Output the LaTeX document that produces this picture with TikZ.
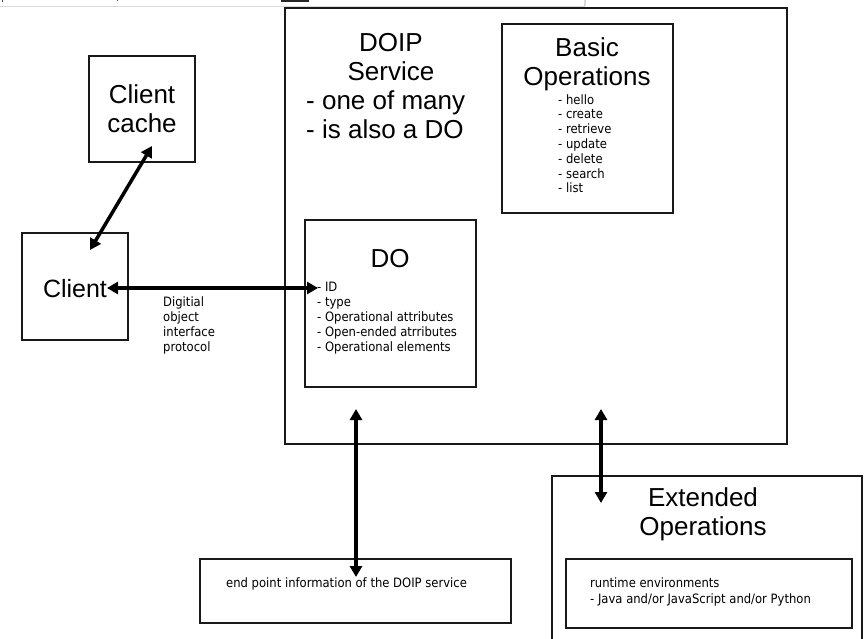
\documentclass[tikz,border=0pt]{standalone}
\usepackage{fontspec}
\setmainfont{Liberation Sans}
\newfontfamily\smallfont{DejaVu Sans Condensed}
\usetikzlibrary{arrows.meta}
\begin{document}
\begin{tikzpicture}[x=1pt,y=-1pt,
  box/.style={draw=black!90, line width=1.6pt, inner sep=0pt},
  big/.style={font=\fontsize{26}{29}\selectfont, align=center, inner sep=0pt, anchor=base},
  bigleft/.style={font=\fontsize{26}{29}\selectfont, align=left, inner sep=0pt, anchor=base west},
  small/.style={font=\smallfont\fontsize{12.9}{14.8}\selectfont, align=left, inner sep=0pt, anchor=base west},
  biarrow/.style={line width=3.5pt, {Triangle[length=11pt,width=12pt]}-{Triangle[length=11pt,width=12pt]}}]
\useasboundingbox (0,0) rectangle (864,639);
% cropped toolbar residue
\draw[black!15, line width=1.5pt] (0,6.5) -- (585,6.5) (585,0) -- (585,6.5);
\fill[black!85] (281,0) rectangle (309,2);
\draw[black!70, line width=0.8pt] (2,0) -- (2,2) (117,0) -- (117,1.5);
% boxes
\node[box, minimum width=502pt, minimum height=436pt] (main) at (536,226) {};
\node[box, minimum width=171pt, minimum height=189pt] (basic) at (587.5,118.5) {};
\node[box, minimum width=171pt, minimum height=167pt] (do) at (390.5,303.5) {};
\node[box, minimum width=106pt, minimum height=107pt] (client) at (75,286.5) {};
\node[box, minimum width=106pt, minimum height=106pt] (cache) at (142,109) {};
\node[box, minimum width=311pt, minimum height=64pt] (endpoint) at (355.5,591) {};
\node[box, minimum width=286pt, minimum height=69pt] (runtime) at (709,593.5) {};
\draw[draw=black!90, line width=1.6pt] (552,645) -- (552,476) -- (862,476) -- (862,645);
% texts (anchor = baseline of the last line)
\node[big] (doiptitle) at (391,81) {DOIP\\Service};
\node[bigleft] (doipdesc) at (306,139) {- one of many\\- is also a DO};
\node[big] (basictitle) at (587,86) {Basic\\Operations};
\node[small] (basiclist) at (558,193) {- hello\\- create\\- retrieve\\- update\\- delete\\- search\\- list};
\node[big] (dotitle) at (390,267) {DO};
\node[small] (dolist) at (317,351) {- ID\\- type\\- Operational attributes\\- Open-ended atrributes\\- Operational elements};
\node[big, font=\fontsize{25}{29}\selectfont] (clienttext) at (75,297) {Client};
\node[big] (cachetext) at (142,133) {Client\\cache};
\node[small] (protocol) at (163,351) {Digitial\\object\\interface\\protocol};
\node[small] (endpointtext) at (226,587) {end point information of the DOIP service};
\node[big] (exttitle) at (703,535) {Extended\\Operations};
\node[small, font=\smallfont\fontsize{12.9}{15.7}\selectfont] (runtimetext) at (590,603) {runtime environments\\- Java and/or JavaScript and/or Python};
% connector ends
\coordinate (cacheend) at (152,146);
\coordinate (clientend) at (90,250);
\coordinate (clientright) at (107,288);
\coordinate (doleft) at (318,288);
\coordinate (mainbottomA) at (356,409);
\coordinate (endpointtop) at (356,577);
\coordinate (mainbottomB) at (601,409);
\coordinate (exttop) at (601,503);
% connectors
\draw[biarrow] (cacheend) -- (clientend);
\draw[biarrow] (clientright) -- (doleft);
\draw[biarrow] (mainbottomA) -- (endpointtop);
\draw[biarrow] (mainbottomB) -- (exttop);
\end{tikzpicture}
\end{document}
